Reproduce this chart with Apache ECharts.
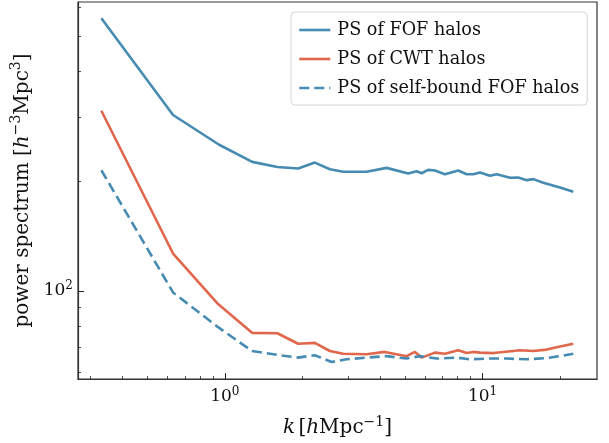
<!DOCTYPE html>
<html>
<head>
<meta charset="utf-8">
<script src="https://cdn.jsdelivr.net/npm/echarts@6/dist/echarts.min.js"></script>
<style>
html,body{margin:0;padding:0;background:#fff;}
#chart{width:609px;height:443px;}
</style>
</head>
<body>
<div id="chart"></div>
<script>
// ---- data ----
const seriesNames = ['PS of FOF halos', 'PS of CWT halos', 'PS of self-bound FOF halos'];

const kFOF = [0.332, 0.630, 0.951, 1.278, 1.60, 1.926, 2.236, 2.556, 2.879, 3.549, 4.243, 5.147, 5.549, 5.801, 6.155, 6.535, 7.145, 8.050, 8.675, 9.203, 9.770, 10.68, 11.34, 12.78, 13.76, 14.84, 15.74, 17.20, 19.98, 22.49];
const pFOF = [559, 303.6, 251.7, 225.9, 218.8, 216.6, 224.9, 215.6, 212.2, 212.2, 217.5, 209.9, 213.0, 210.3, 214.8, 213.9, 208.9, 213.9, 208.9, 208.9, 211.2, 206.9, 208.9, 204.3, 204.7, 201.3, 202.6, 198.1, 192.3, 187.2];

const kCWT = [0.332, 0.630, 0.942, 1.276, 1.60, 1.926, 2.236, 2.556, 2.879, 3.549, 4.179, 5.074, 5.465, 5.801, 6.535, 7.145, 8.050, 8.675, 9.203, 9.770, 11.00, 13.16, 13.97, 15.74, 17.74, 19.98, 22.49];
const pCWT = [311.9, 126.7, 92.1, 76.8, 76.6, 71.7, 72.1, 68.5, 67.3, 67.1, 68.1, 66.3, 68.1, 65.7, 67.8, 67.3, 68.8, 67.6, 68.1, 67.8, 67.6, 68.5, 68.8, 68.5, 69.1, 70.5, 71.7];

const kSB = [0.332, 0.630, 0.942, 1.276, 1.63, 1.926, 2.236, 2.596, 2.968, 3.549, 4.243, 5.074, 5.715, 6.635, 7.935, 8.935, 10.37, 12.41, 14.84, 17.74, 19.98, 22.49];
const pSB = [214.3, 99.1, 79.6, 68.5, 66.7, 65.7, 66.7, 63.9, 65.0, 65.7, 66.3, 65.3, 66.3, 65.3, 65.7, 65.0, 65.3, 65.3, 65.0, 65.5, 66.3, 67.3];

const xMajorTicks = [1, 10];
const xMinorTicks = [0.3, 0.4, 0.5, 0.6, 0.7, 0.8, 0.9, 2, 3, 4, 5, 6, 7, 8, 9, 20];
const yMajorTicks = [100];
const yMinorTicks = [60, 70, 80, 90, 200, 300, 400, 500, 600];
const xRange = [0.2695, 27.8];
const yRange = [57.4, 619.5];

// ---- chart ----
const FONT = 'DejaVu Serif';
const TXT = '#111';
const BLUE = '#468bb1';
const ORANGE = '#e0674b';

function zip(a, b) { return a.map((v, i) => [v, b[i]]); }
function powLabel(v) {
  const e = Math.round(Math.log10(v));
  return '{b|10}{s|' + e + '}';
}
const tickRich = {
  b: { fontFamily: FONT, fontSize: 17, color: TXT, lineHeight: 22 },
  s: { fontFamily: FONT, fontSize: 12, color: TXT, verticalAlign: 'top', lineHeight: 12 }
};
const nameRich = {
  t: { fontFamily: FONT, fontSize: 20, color: TXT, lineHeight: 26 },
  i: { fontFamily: FONT, fontSize: 20, color: TXT, fontStyle: 'italic', lineHeight: 26 },
  s: { fontFamily: FONT, fontSize: 14, color: TXT, verticalAlign: 'top', lineHeight: 14 }
};

const chart = echarts.init(document.getElementById('chart'), null, { renderer: 'canvas' });
const common = { type: 'log', logBase: 10, splitLine: { show: false }, minorTick: { show: false } };

chart.setOption({
  animation: false,
  backgroundColor: '#fff',
  grid: { left: 78, right: 12, top: 2, bottom: 61, containLabel: false, show: true, borderColor: '#333', borderWidth: 1.2, backgroundColor: 'transparent' },
  legend: {
    data: seriesNames,
    orient: 'vertical',
    left: 291, top: 12,
    padding: [9, 8, 8, 7],
    itemGap: 11, itemWidth: 31, itemHeight: 17,
    borderColor: '#d6d6d6', borderWidth: 1, borderRadius: 4,
    backgroundColor: 'rgba(255,255,255,0.85)',
    itemStyle: { opacity: 0 },
    lineStyle: { width: 2.6 },
    textStyle: { fontFamily: FONT, fontSize: 17.6, color: TXT, padding: [0, 0, 0, 2] }
  },
  xAxis: [
    Object.assign({}, common, {
      min: xRange[0], max: xRange[1], position: 'bottom',
      axisLine: { show: true, lineStyle: { color: '#333', width: 1.2 } },
      axisTick: { show: true, inside: true, length: 6, customValues: xMajorTicks, lineStyle: { color: '#222', width: 1 } },
      axisLabel: { customValues: xMajorTicks, formatter: powLabel, rich: tickRich, margin: 7 },
      name: '{i|k} {t|[}{i|h}{t|Mpc}{s|−1}{t|]}', nameLocation: 'middle', nameGap: 36,
      nameTextStyle: { rich: nameRich }
    }),
    Object.assign({}, common, {
      min: xRange[0], max: xRange[1], position: 'bottom',
      axisLine: { show: false },
      axisTick: { show: true, inside: true, length: 3, customValues: xMinorTicks, lineStyle: { color: '#222', width: 0.8 } },
      axisLabel: { show: false }
    })
  ],
  yAxis: [
    Object.assign({}, common, {
      min: yRange[0], max: yRange[1], position: 'left',
      axisLine: { show: true, lineStyle: { color: '#333', width: 1.2 } },
      axisTick: { show: true, inside: true, length: 6, customValues: yMajorTicks, lineStyle: { color: '#222', width: 1 } },
      axisLabel: { customValues: yMajorTicks, formatter: powLabel, rich: tickRich, margin: 5 },
      name: '{t|power spectrum [}{i|h}{s|−3}{t|Mpc}{s|3}{t|]}', nameLocation: 'middle', nameGap: 38,
      nameTextStyle: { rich: nameRich }
    }),
    Object.assign({}, common, {
      min: yRange[0], max: yRange[1], position: 'left',
      axisLine: { show: false },
      axisTick: { show: true, inside: true, length: 3, customValues: yMinorTicks, lineStyle: { color: '#222', width: 0.8 } },
      axisLabel: { show: false }
    })
  ],
  series: [
    { name: seriesNames[0], type: 'line', xAxisIndex: 0, yAxisIndex: 0, symbol: 'none', data: zip(kFOF, pFOF),
      lineStyle: { color: BLUE, width: 2.6 }, itemStyle: { color: BLUE } },
    { name: seriesNames[1], type: 'line', xAxisIndex: 0, yAxisIndex: 0, symbol: 'none', data: zip(kCWT, pCWT),
      lineStyle: { color: ORANGE, width: 2.6 }, itemStyle: { color: ORANGE } },
    { name: seriesNames[2], type: 'line', xAxisIndex: 0, yAxisIndex: 0, symbol: 'none', data: zip(kSB, pSB),
      lineStyle: { color: BLUE, width: 2.6, type: [10, 5] }, itemStyle: { color: BLUE } }
  ]
});
</script>
</body>
</html>
